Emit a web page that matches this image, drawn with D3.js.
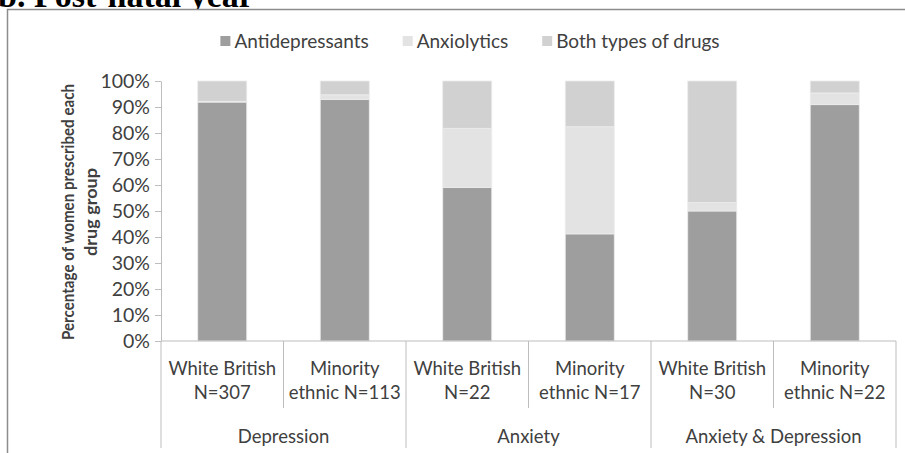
<!DOCTYPE html>
<html>
<head>
<meta charset="utf-8">
<script src="https://cdn.jsdelivr.net/npm/d3@7"></script>
<style>
  body { margin: 0; background: #fff; }
  svg { display: block; }
  text { font-family: Lato, "Open Sans", sans-serif; }
</style>
</head>
<body>
<div id="chart"></div>
<script>
// data (share of women per drug group)
const groups = ["Depression", "Anxiety", "Anxiety & Depression"];
const categories = [
  ["White British", "N=307"],
  ["Minority", "ethnic N=113"],
  ["White British", "N=22"],
  ["Minority", "ethnic N=17"],
  ["White British", "N=30"],
  ["Minority", "ethnic N=22"]
];
const seriesNames = ["Antidepressants", "Anxiolytics", "Both types of drugs"];
const antidepressants = [91.9, 92.9, 59.1, 41.2, 50.0, 90.9];
const anxiolytics     = [0.3, 1.8, 22.7, 41.2, 3.3, 4.5];
const bothTypes       = [7.8, 5.3, 18.2, 17.6, 46.7, 4.6];
const yTicks = [0, 0.1, 0.2, 0.3, 0.4, 0.5, 0.6, 0.7, 0.8, 0.9, 1];

const colors = ["#9e9e9e", "#e3e3e3", "#d1d1d1"];
const width = 905, height = 453;

const svg = d3.select("#chart").append("svg")
  .attr("width", width)
  .attr("height", height);

// title, mostly cut off at the top like the source crop
svg.append("text")
  .attr("x", -2)
  .attr("y", 7)
  .style("font-family", "'Liberation Serif', serif")
  .attr("font-size", 34)
  .attr("font-weight", "bold")
  .attr("fill", "#000")
  .text("b. Post-natal year");

// outer chart frame (runs off right and bottom)
svg.append("rect")
  .attr("x", 7.5).attr("y", 9.5)
  .attr("width", 1000).attr("height", 600)
  .attr("fill", "#fff")
  .attr("stroke", "#8c8c8c")
  .attr("stroke-width", 1.5);

const plotLeft = 161, plotRight = 896, plotTop = 81, plotBottom = 341;

const x = d3.scaleBand()
  .domain(d3.range(categories.length))
  .range([plotLeft, plotRight])
  .paddingInner(0.6)
  .paddingOuter(0.3);

const slot = d3.scaleBand()
  .domain(d3.range(categories.length))
  .range([plotLeft, plotRight]);

const y = d3.scaleLinear().domain([0, 1]).range([plotBottom, plotTop]);

// stack
const rows = categories.map((c, i) => ({
  i: i,
  "Antidepressants": antidepressants[i] / 100,
  "Anxiolytics": anxiolytics[i] / 100,
  "Both types of drugs": bothTypes[i] / 100
}));
const stacked = d3.stack().keys(seriesNames)(rows);

svg.append("g").selectAll("g")
  .data(stacked)
  .join("g")
  .attr("fill", (d, k) => colors[k])
  .selectAll("rect")
  .data(d => d)
  .join("rect")
  .attr("x", d => x(d.data.i))
  .attr("width", x.bandwidth())
  .attr("y", d => y(Math.min(d[1], 1)))
  .attr("height", d => y(d[0]) - y(Math.min(d[1], 1)))
  .attr("stroke", "#ececec")
  .attr("stroke-width", 0.8);

// y axis
const yAxis = svg.append("g")
  .attr("transform", `translate(${plotLeft},0)`)
  .call(d3.axisLeft(y).tickValues(yTicks).tickFormat(d3.format(".0%")).tickSize(6).tickSizeOuter(0).tickPadding(5));
yAxis.select(".domain").attr("stroke", "#bdbdbd");
yAxis.selectAll(".tick line").attr("stroke", "#bdbdbd");
yAxis.selectAll(".tick text")
  .attr("font-size", 19.5)
  .attr("fill", "#404040")
  .style("font-family", "Lato, sans-serif");

// x baseline
svg.append("line")
  .attr("x1", plotLeft).attr("x2", plotRight)
  .attr("y1", plotBottom).attr("y2", plotBottom)
  .attr("stroke", "#bdbdbd");

// category separators
const bounds = d3.range(categories.length + 1);
svg.append("g").selectAll("line")
  .data(bounds)
  .join("line")
  .attr("x1", i => i < categories.length ? slot(i) : plotRight)
  .attr("x2", i => i < categories.length ? slot(i) : plotRight)
  .attr("y1", plotBottom)
  .attr("y2", i => i % 2 === 0 ? 448 : 408)
  .attr("stroke", "#bdbdbd");

// category labels
const catG = svg.append("g").selectAll("text")
  .data(categories)
  .join("text")
  .attr("text-anchor", "middle")
  .attr("font-size", 18.5)
  .attr("fill", "#404040");
catG.append("tspan")
  .attr("x", (d, i) => slot(i) + slot.bandwidth() / 2)
  .attr("y", 375)
  .text(d => d[0]);
catG.append("tspan")
  .attr("x", (d, i) => slot(i) + slot.bandwidth() / 2)
  .attr("y", 399)
  .text(d => d[1]);

// group labels
svg.append("g").selectAll("text")
  .data(groups)
  .join("text")
  .attr("x", (d, g) => slot(g * 2) + slot.bandwidth())
  .attr("y", 443)
  .attr("text-anchor", "middle")
  .attr("font-size", 18.5)
  .attr("fill", "#404040")
  .text(d => d);

// y axis title (squeezed to the narrow width of the original font)
const yTitle = svg.append("text")
  .attr("transform", "translate(74,212) rotate(-90)")
  .attr("text-anchor", "middle")
  .attr("font-size", 17.5)
  .attr("font-weight", "bold")
  .attr("fill", "#404040");
yTitle.append("tspan").attr("x", 0).attr("y", 0)
  .attr("textLength", 256).attr("lengthAdjust", "spacingAndGlyphs")
  .text("Percentage of women prescribed each");
yTitle.append("tspan").attr("x", 0).attr("y", 23)
  .attr("textLength", 88).attr("lengthAdjust", "spacingAndGlyphs")
  .text("drug group");

// legend
const legend = svg.append("g");
const items = legend.selectAll("g")
  .data(seriesNames)
  .join("g");
items.append("rect")
  .attr("width", 10).attr("height", 10)
  .attr("y", 36)
  .attr("fill", (d, k) => colors[k]);
items.append("text")
  .attr("x", 14)
  .attr("y", 48)
  .attr("font-size", 19)
  .attr("fill", "#404040")
  .text(d => d);
let cursor = 0;
const offsets = [];
items.each(function () {
  offsets.push(cursor);
  const w = d3.select(this).select("text").node().getComputedTextLength();
  cursor += 14 + w + 34;
});
const totalW = cursor - 34;
const startX = 470 - totalW / 2;
items.attr("transform", (d, k) => `translate(${startX + offsets[k]},0)`);
</script>
</body>
</html>
